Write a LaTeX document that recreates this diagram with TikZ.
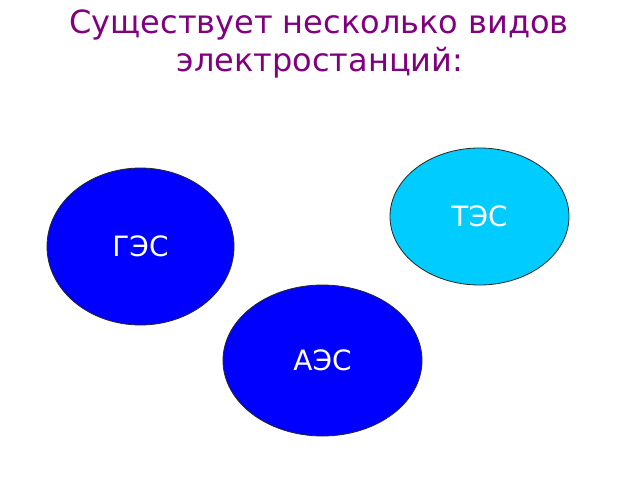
\documentclass[tikz,border=0pt]{standalone}
\usepackage{fontspec}
\setmainfont{DejaVu Sans}
\usetikzlibrary{shapes.geometric}
\definecolor{titlepurple}{RGB}{128,0,128}
\definecolor{deepblue}{RGB}{0,0,255}
\definecolor{skycyan}{RGB}{0,204,255}
\tikzset{
  station/.style={ellipse, draw=black!85, line width=0.8pt, inner sep=0pt,
    text=white, font=\fontsize{28}{32}\selectfont},
  titletext/.style={text=titlepurple, font=\fontsize{32}{38}\selectfont, anchor=base, inner sep=0pt}
}
\begin{document}
\begin{tikzpicture}[x=1pt,y=-1pt]
\useasboundingbox (0,0) rectangle (640,480);
\fill[white] (0,0) rectangle (640,480);
\node[titletext] (t1) at (319,33.3) {Существует несколько видов};
\node[titletext] (t2) at (320,71.5) {электростанций:};
\node[station, fill=skycyan, minimum width=179pt, minimum height=137pt] (tes) at (479.5,216.5) {ТЭС};
\node[station, fill=deepblue, minimum width=187pt, minimum height=157pt] (ges) at (140.5,246.5) {ГЭС};
\node[station, fill=deepblue, minimum width=199pt, minimum height=151pt] (aes) at (322.5,360.5) {АЭС};
\end{tikzpicture}
\end{document}
